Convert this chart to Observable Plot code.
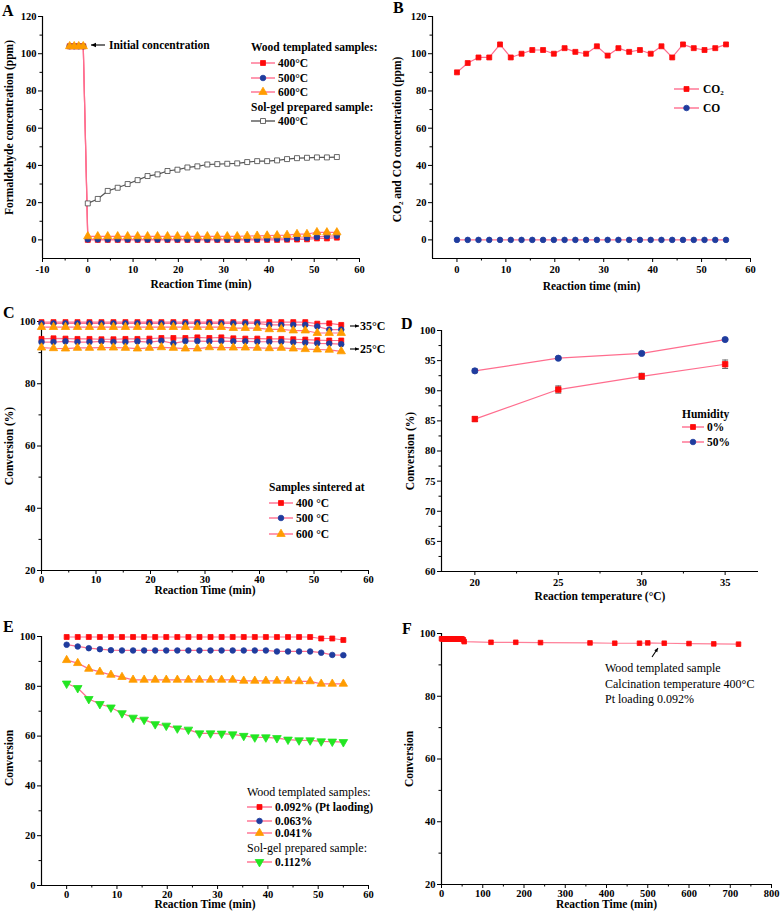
<!DOCTYPE html>
<html>
<head>
<meta charset="utf-8">
<script src="https://cdn.jsdelivr.net/npm/d3@7"></script>
<script src="https://cdn.jsdelivr.net/npm/@observablehq/plot@0.6"></script>
<style>
html,body{margin:0;padding:0;background:#fff;}
#fig{position:relative;width:782px;height:922px;overflow:hidden;background:#fff;}
#fig svg{position:absolute;overflow:visible;}
</style>
</head>
<body>
<div id="fig"></div>
<script>
// ---------------- data ----------------
const timeMin = [0,2.2,4.4,6.6,8.8,11,13.2,15.4,17.6,19.8,22,24.2,26.4,28.6,30.8,33,35.2,37.4,39.6,41.8,44,46.2,48.4,50.6,52.8,55];

// Panel A – formaldehyde concentration (ppm)
const initialTimes = [-4,-3,-2,-1];
const initialConc = [104,104,104,104];
const woodA400 = [0,0,0,0,0,0,0,0,0,0,0,0,0,0,0,0,0,0,0,0,0.1,0.2,0.3,0.8,0.8,1.2];
const woodA500 = [0.3,0.3,0.3,0.3,0.3,0.3,0.3,0.3,0.3,0.3,0.3,0.3,0.3,0.3,0.3,0.3,0.4,0.4,0.5,0.6,0.6,0.9,1.0,1.6,2.0,2.2];
const woodA600 = [1.9,1.9,1.9,1.9,1.9,1.9,1.9,1.9,1.9,1.9,1.9,1.9,1.9,1.9,1.9,1.9,2.1,2.2,2.3,2.4,2.6,3.1,3.1,4.1,4.0,4.0];
const solgelA = [19.6,22,26.3,28,30,32.1,34.3,35.2,37,37.7,38.9,39.5,40.5,40.7,40.9,41.1,41.8,42.3,42.3,42.7,43.4,43.9,44.1,44.3,44.3,44.5];

// Panel B – CO2 and CO (ppm)
const co2B = [90,95,98,98,105,98,100,102,102,100,103,101,100,104,99,103,101,102,100,104,98,105,103,102,103,105];
const coB = [0,0,0,0,0,0,0,0,0,0,0,0,0,0,0,0,0,0,0,0,0,0,0,0,0,0];

// Panel C – conversion (%) at 35 °C and 25 °C
const c35_400 = [99.8,99.8,99.8,99.8,99.8,99.8,99.8,99.8,99.8,99.8,99.8,99.8,99.8,99.8,99.8,99.8,99.8,99.8,99.8,99.8,99.8,99.8,99.8,99.3,99.4,98.9];
const c35_500 = [99.4,99.4,99.4,99.4,99.4,99.4,99.4,99.4,99.4,99.4,99.4,99.4,99.4,99.4,99.4,99.4,99.4,99.4,99.4,98.9,98.9,98.9,98.9,98.4,97.4,97.4];
const c35_600 = [98.2,98.2,98.2,98.2,98.2,98.2,98.2,98.2,98.2,98.2,98.2,98.2,98.2,98.2,98.2,98.2,97.9,97.9,97.9,97.5,97.5,97.1,97.1,96.3,96.3,96.3];
const c25_400 = [94.4,94.6,94.5,94.4,94.4,94.3,94.3,94.4,94.4,94.5,94.7,94.7,94.7,94.9,94.7,94.9,94.6,94.5,94.5,94.4,94.4,94.3,94.2,94.0,93.9,93.9];
const c25_500 = [93.4,93.4,93.6,93.4,93.4,93.6,93.4,93.4,93.6,93.4,93.8,93.0,93.7,93.7,93.6,93.7,93.6,93.6,93.5,93.5,93.5,93.3,93.2,93.0,92.9,92.7];
const c25_600 = [91.6,91.4,91.3,91.5,91.5,91.6,91.6,91.5,91.3,91.5,91.7,91.5,91.3,91.3,91.7,91.6,91.6,91.6,91.5,91.4,91.5,91.3,91.1,91.0,90.9,90.4];

// Panel D – conversion vs reaction temperature
const tempD = [20,25,30,35];
const humid0 = [85.3,90.2,92.4,94.4];
const humid0Err = [0.4,0.6,0.5,0.7];
const humid50 = [93.3,95.4,96.2,98.5];
const humid50Err = [0.3,0.2,0.2,0.2];

// Panel E – conversion vs Pt loading
const e092 = [99.8,99.8,99.8,99.8,99.8,99.8,99.8,99.8,99.8,99.8,99.8,99.8,99.8,99.8,99.8,99.8,99.8,99.8,99.8,99.8,99.8,99.8,99.8,99.2,99.2,98.6];
const e063 = [96.7,96.0,95.3,94.9,94.5,94.4,94.4,94.4,94.4,94.4,94.4,94.4,94.4,94.4,94.4,94.4,94.4,94.4,94.4,94.0,94.0,94.0,94.0,93.5,92.6,92.5];
const e041 = [90.5,89.3,87.0,85.8,84.6,83.7,82.6,82.6,82.6,82.6,82.6,82.6,82.6,82.6,82.6,82.6,82.2,82.2,82.2,82.2,82.2,82.0,82.0,81.0,81.0,81.0];
const e112 = [81.1,79.3,74.9,72.9,71.5,69.2,67.4,66.6,64.8,64.2,63.1,62.6,61.1,61.1,61.0,60.7,60.1,59.5,59.5,59.2,58.6,58.3,58.3,57.9,57.8,57.6];

// Panel F – long-term stability
const timeF = [0,2.2,4.4,6.6,8.8,11,13.2,15.4,17.6,19.8,22,24.2,26.4,28.6,30.8,33,35.2,37.4,39.6,41.8,44,46.2,48.4,50.6,52.8,55,120,180,240,360,420,480,500,540,600,660,720];
const convF = [98.3,98.3,98.3,98.3,98.3,98.3,98.3,98.3,98.3,98.3,98.3,98.3,98.3,98.3,98.3,98.3,98.3,98.3,98.3,98.3,98.3,98.3,98.3,98.2,98.0,97.4,97.2,97.2,97.1,97.0,96.9,96.9,97.0,96.9,96.8,96.7,96.6];

// ---------------- styles ----------------
const FONT = '"Liberation Serif","Times New Roman",serif';
const PINK = "#ff6d8e";
const triangleDown = {
  draw(context, size) {
    const y = -Math.sqrt(size / (Math.sqrt(3) * 3));
    context.moveTo(0, -y * 2);
    context.lineTo(-Math.sqrt(3) * y, y);
    context.lineTo(Math.sqrt(3) * y, y);
    context.closePath();
  }
};
const ST = {
  red:    {line: PINK, fill: "#ff0a0a", stroke: "#ff0a0a", symbol: d3.symbolSquare, r: 2.8},
  blue:   {line: PINK, fill: "#1f3c9e", stroke: "#1f3c9e", symbol: d3.symbolCircle, r: 2.8},
  orange: {line: PINK, fill: "#ff9c00", stroke: "#ff9c00", symbol: d3.symbolTriangle, r: 3.1},
  gray:   {line: "#555555", fill: "#ffffff", stroke: "#444444", symbol: d3.symbolSquare, r: 2.8},
  green:  {line: PINK, fill: "#22e622", stroke: "#22e622", symbol: triangleDown, r: 3.2}
};

const tbl = (xs, ys) => xs.map((t, i) => ({t, v: ys[i]}));
const lineMark = (d, s, w = 1.2) => Plot.line(d, {x: "t", y: "v", stroke: s.line, strokeWidth: w});
const dotMark = (d, s, r) => Plot.dot(d, {x: "t", y: "v", symbol: s.symbol, r: r || s.r, fill: s.fill, stroke: s.stroke, strokeWidth: 0.8});

const fig = document.getElementById("fig");

function panel(cfg) {
  const m = cfg.margin; // [top,right,bottom,left]
  const pad = cfg.pad ?? 3;
  const chart = Plot.plot({
    width: cfg.width, height: cfg.height,
    marginTop: m[0], marginRight: m[1], marginBottom: m[2], marginLeft: m[3],
    style: {fontFamily: FONT, fontSize: "10.5px", fontWeight: "bold", color: "#000", background: "transparent", overflow: "visible"},
    x: {domain: cfg.xDomain, label: null},
    y: {domain: cfg.yDomain, label: null},
    marks: [
      Plot.axisX(cfg.xMinor, {tickSize: 2.5, tickFormat: () => "", label: null}),
      Plot.axisX(cfg.xTicks, {tickSize: 4, tickPadding: pad, tickFormat: d => String(d), label: null}),
      Plot.axisY(cfg.yMinor, {tickSize: 2.5, tickFormat: () => "", label: null}),
      Plot.axisY(cfg.yTicks, {tickSize: 4, tickPadding: 2, tickFormat: d => String(d), label: null}),
      Plot.ruleX([cfg.xDomain[0]], {stroke: "#000", strokeWidth: 1.2}),
      Plot.ruleY([cfg.yDomain[0]], {stroke: "#000", strokeWidth: 1.2}),
      Plot.text([cfg.xLabel], {text: d => d, frameAnchor: "bottom", textAnchor: "middle", lineAnchor: "middle", dy: cfg.xLabelDy, fontSize: 11.5}),
      Plot.text([cfg.yLabel], {text: d => d, frameAnchor: "left", textAnchor: "middle", lineAnchor: "middle", rotate: -90, dx: cfg.yLabelDx, dy: cfg.yLabelDy || 0, fontSize: 11.5}),
      ...cfg.marks
    ]
  });
  chart.style.left = cfg.left + "px";
  chart.style.top = cfg.top + "px";
  fig.appendChild(chart);
}

// ---------- Panel A ----------
const aWood400 = tbl(initialTimes.concat(timeMin), initialConc.concat(woodA400));
const aWood500 = tbl(initialTimes.concat(timeMin), initialConc.concat(woodA500));
const aWood600 = tbl(initialTimes.concat(timeMin), initialConc.concat(woodA600));
const aSolgel = tbl(timeMin, solgelA);
panel({
  left: 0, top: 0, width: 391, height: 300, margin: [16, 32, 42, 42],
  xDomain: [-10, 60], yDomain: [-10, 120],
  xTicks: [-10,0,10,20,30,40,50,60], xMinor: [-5,5,15,25,35,45,55],
  yTicks: [0,20,40,60,80,100,120], yMinor: [10,30,50,70,90,110],
  xLabel: "Reaction Time (min)", xLabelDy: 26,
  yLabel: "Formaldehyde concentration (ppm)", yLabelDx: -33, yLabelDy: -10,
  marks: [
    lineMark(aSolgel, ST.gray), lineMark(aWood400, ST.red), lineMark(aWood500, ST.blue), lineMark(aWood600, ST.orange),
    dotMark(aSolgel, ST.gray), dotMark(aWood400, ST.red), dotMark(aWood500, ST.blue), dotMark(aWood600, ST.orange)
  ]
});

// ---------- Panel B ----------
const bCO2 = tbl(timeMin, co2B), bCO = tbl(timeMin, coB);
panel({
  left: 391, top: 0, width: 391, height: 300, margin: [16, 32, 42, 41],
  xDomain: [-5, 60], yDomain: [-10, 120],
  xTicks: [0,10,20,30,40,50,60], xMinor: [5,15,25,35,45,55],
  yTicks: [0,20,40,60,80,100,120], yMinor: [10,30,50,70,90,110],
  xLabel: "Reaction time (min)", xLabelDy: 28,
  yLabel: "CO\u2082 and CO concentration (ppm)", yLabelDx: -35, yLabelDy: 2,
  marks: [lineMark(bCO2, ST.red), lineMark(bCO, ST.blue), dotMark(bCO2, ST.red), dotMark(bCO, ST.blue)]
});

// ---------- Panel C ----------
const cSets = [
  [tbl(timeMin, c35_400), ST.red], [tbl(timeMin, c35_500), ST.blue], [tbl(timeMin, c35_600), ST.orange],
  [tbl(timeMin, c25_400), ST.red], [tbl(timeMin, c25_500), ST.blue], [tbl(timeMin, c25_600), ST.orange]
];
panel({
  left: 0, top: 300, width: 391, height: 305, margin: [21, 23, 35, 41], pad: 1,
  xDomain: [0, 60], yDomain: [20, 100],
  xTicks: [0,10,20,30,40,50,60], xMinor: [5,15,25,35,45,55],
  yTicks: [20,40,60,80,100], yMinor: [30,50,70,90],
  xLabel: "Reaction Time (min)", xLabelDy: 20,
  yLabel: "Conversion (%)", yLabelDx: -32, yLabelDy: 0,
  marks: [...cSets.map(([d, s]) => lineMark(d, s)), ...cSets.map(([d, s]) => dotMark(d, s))]
});

// ---------- Panel D ----------
const d0 = tempD.map((t, i) => ({t, v: humid0[i], e: humid0Err[i]}));
const d50 = tempD.map((t, i) => ({t, v: humid50[i], e: humid50Err[i]}));
const errMarks = (d) => [
  Plot.ruleX(d, {x: "t", y1: r => r.v - r.e, y2: r => r.v + r.e, stroke: "#666", strokeWidth: 1}),
  Plot.link(d, {x1: r => r.t - 0.18, x2: r => r.t + 0.18, y1: r => r.v - r.e, y2: r => r.v - r.e, stroke: "#666"}),
  Plot.link(d, {x1: r => r.t - 0.18, x2: r => r.t + 0.18, y1: r => r.v + r.e, y2: r => r.v + r.e, stroke: "#666"})
];
panel({
  left: 391, top: 300, width: 391, height: 305, margin: [30, 24, 34, 50],
  xDomain: [18, 37], yDomain: [60, 100],
  xTicks: [20,25,30,35], xMinor: [22.5,27.5,32.5],
  yTicks: [60,65,70,75,80,85,90,95,100], yMinor: [62.5,67.5,72.5,77.5,82.5,87.5,92.5,97.5],
  xLabel: "Reaction temperature (\u00b0C)", xLabelDy: 25,
  yLabel: "Conversion (%)", yLabelDx: -31, yLabelDy: 0,
  marks: [lineMark(d0, ST.red), lineMark(d50, ST.blue), ...errMarks(d0), ...errMarks(d50), dotMark(d0, ST.red, 3.1), dotMark(d50, ST.blue, 3.1)]
});

// ---------- Panel E ----------
const eSets = [
  [tbl(timeMin, e092), ST.red], [tbl(timeMin, e063), ST.blue], [tbl(timeMin, e041), ST.orange], [tbl(timeMin, e112), ST.green]
];
panel({
  left: 0, top: 610, width: 391, height: 312, margin: [26, 23, 37, 41], pad: 1,
  xDomain: [-5, 60], yDomain: [0, 100],
  xTicks: [0,10,20,30,40,50,60], xMinor: [5,15,25,35,45,55],
  yTicks: [0,20,40,60,80,100], yMinor: [10,30,50,70,90],
  xLabel: "Reaction Time (min)", xLabelDy: 19,
  yLabel: "Conversion", yLabelDx: -32, yLabelDy: -3,
  marks: [...eSets.map(([d, s]) => lineMark(d, s)), ...eSets.map(([d, s]) => dotMark(d, s))]
});

// ---------- Panel F ----------
const fData = tbl(timeF, convF);
panel({
  left: 391, top: 610, width: 391, height: 312, margin: [23, 11, 38, 50], pad: 1,
  xDomain: [0, 800], yDomain: [20, 100],
  xTicks: [0,100,200,300,400,500,600,700,800], xMinor: [50,150,250,350,450,550,650,750],
  yTicks: [20,40,60,80,100], yMinor: [30,50,70,90],
  xLabel: "Reaction Time (min)", xLabelDy: 20,
  yLabel: "Conversion", yLabelDx: -32, yLabelDy: 0,
  marks: [lineMark(fData, {line: "#ff7f98"}), dotMark(fData, ST.red, 2.6)]
});

// ---------------- overlay: panel letters, legends, annotations ----------------
const ov = d3.select("#fig").append("svg")
  .attr("width", 782).attr("height", 922)
  .style("left", "0px").style("top", "0px")
  .attr("font-family", FONT).attr("font-weight", "bold").attr("font-size", 11.5);

function txt(x, y, s, opt = {}) {
  return ov.append("text").attr("x", x).attr("y", y).attr("dy", "0.35em")
    .attr("font-size", opt.size || 11.5).attr("font-weight", opt.weight || "bold")
    .attr("text-anchor", opt.anchor || "start").attr("fill", "#000").text(s);
}
function legend(x0, x1, tx, rows) {
  rows.forEach(r => {
    if (r.header) { txt(x0, r.y, r.header, {weight: r.weight || "bold", size: r.size}); return; }
    const s = r.s;
    ov.append("line").attr("x1", x0).attr("x2", x1).attr("y1", r.y).attr("y2", r.y).attr("stroke", s.line).attr("stroke-width", 1.4);
    ov.append("path").attr("d", d3.symbol(s.symbol, Math.PI * s.r * s.r)())
      .attr("transform", `translate(${(x0 + x1) / 2},${r.y})`)
      .attr("fill", s.fill).attr("stroke", s.stroke).attr("stroke-width", 0.8);
    txt(tx, r.y, r.label);
  });
}
function arrow(x1, y1, x2, y2, head = 5) {
  ov.append("line").attr("x1", x1).attr("y1", y1).attr("x2", x2).attr("y2", y2).attr("stroke", "#000").attr("stroke-width", 1.1);
  const a = Math.atan2(y2 - y1, x2 - x1), w = head * 0.45;
  const bx = x2 - head * Math.cos(a), by = y2 - head * Math.sin(a);
  ov.append("path").attr("d", `M${x2},${y2}L${bx - w * Math.sin(a)},${by + w * Math.cos(a)}L${bx + w * Math.sin(a)},${by - w * Math.cos(a)}Z`).attr("fill", "#000");
}

// letters
[["A", 2, 10], ["B", 393, 7], ["C", 3, 312], ["D", 401, 323], ["E", 3, 626], ["F", 402, 628]]
  .forEach(([l, x, y]) => txt(x, y, l, {size: 16}));

// legends
legend(251, 275, 278, [
  {header: "Wood templated samples:", y: 47},
  {s: ST.red, label: "400\u00b0C", y: 63},
  {s: ST.blue, label: "500\u00b0C", y: 78},
  {s: ST.orange, label: "600\u00b0C", y: 92},
  {header: "Sol-gel prepared sample:", y: 107},
  {s: ST.gray, label: "400\u00b0C", y: 121}
]);
legend(674, 699, 703, [
  {s: ST.red, label: "CO\u2082", y: 89},
  {s: ST.blue, label: "CO", y: 108}
]);
legend(269, 293, 296, [
  {header: "Samples sintered at", y: 487},
  {s: ST.red, label: "400 \u00b0C", y: 503},
  {s: ST.blue, label: "500 \u00b0C", y: 518},
  {s: ST.orange, label: "600 \u00b0C", y: 534}
]);
legend(682, 704, 707, [
  {header: "Humidity", y: 414},
  {s: ST.red, label: "0%", y: 427},
  {s: ST.blue, label: "50%", y: 442}
]);
legend(247, 272, 275, [
  {header: "Wood templated samples:", y: 792, weight: "normal", size: 12},
  {s: ST.red, label: "0.092% (Pt laoding)", y: 807},
  {s: ST.blue, label: "0.063%", y: 821},
  {s: ST.orange, label: "0.041%", y: 833},
  {header: "Sol-gel prepared sample:", y: 848, weight: "normal", size: 12},
  {s: ST.green, label: "0.112%", y: 862}
]);

// annotations
arrow(105, 45, 91, 45, 5);
txt(109, 45, "Initial concentration");
arrow(350, 326, 359, 326, 4);
txt(360, 326, "35\u00b0C", {size: 12});
arrow(350, 349, 359, 349, 4);
txt(360, 349, "25\u00b0C", {size: 12});
arrow(652, 657, 658, 648, 4);
txt(605, 668, "Wood templated sample", {weight: "normal", size: 12});
txt(605, 684, "Calcination temperature 400\u00b0C", {weight: "normal", size: 12});
txt(605, 699, "Pt loading 0.092%", {weight: "normal", size: 12});
</script>
</body>
</html>
